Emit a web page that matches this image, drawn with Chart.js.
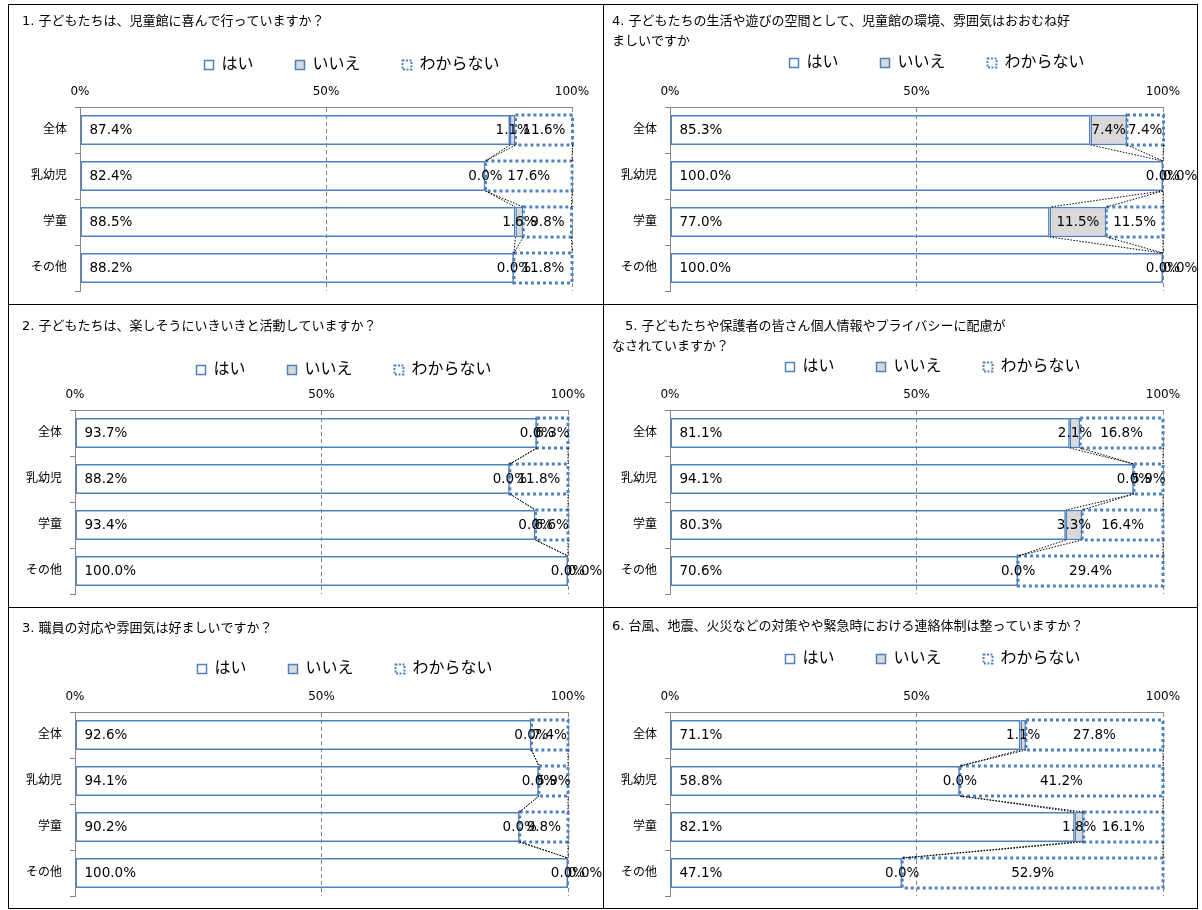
<!DOCTYPE html>
<html>
<head>
<meta charset="utf-8">
<script src="https://cdn.jsdelivr.net/npm/chart.js@4.4.1/dist/chart.umd.min.js"></script>
<style>
  body { margin: 0; background: #fff; }
  #page { position: relative; width: 1202px; height: 910px; overflow: hidden; }
  #page canvas { position: absolute; }
  .ln { position: absolute; background: #000; z-index: 5; }
</style>
</head>
<body>
<div id="page"></div>
<script>
const categories = ["全体", "乳幼児", "学童", "その他"];
const seriesNames = ["はい", "いいえ", "わからない"];
const axisTicks = [0, 50, 100];

const titles = [
  ["1. 子どもたちは、児童館に喜んで行っていますか？"],
  ["2. 子どもたちは、楽しそうにいきいきと活動していますか？"],
  ["3. 職員の対応や雰囲気は好ましいですか？"],
  ["4. 子どもたちの生活や遊びの空間として、児童館の環境、雰囲気はおおむね好", "ましいですか"],
  ["\u30005. 子どもたちや保護者の皆さん個人情報やプライバシーに配慮が", "なされていますか？"],
  ["6. 台風、地震、火災などの対策やや緊急時における連絡体制は整っていますか？"],
];

const q1Yes = [87.4, 82.4, 88.5, 88.2];
const q1No = [1.1, 0.0, 1.6, 0.0];
const q1Unknown = [11.6, 17.6, 9.8, 11.8];

const q2Yes = [93.7, 88.2, 93.4, 100.0];
const q2No = [0.0, 0.0, 0.0, 0.0];
const q2Unknown = [6.3, 11.8, 6.6, 0.0];

const q3Yes = [92.6, 94.1, 90.2, 100.0];
const q3No = [0.0, 0.0, 0.0, 0.0];
const q3Unknown = [7.4, 5.9, 9.8, 0.0];

const q4Yes = [85.3, 100.0, 77.0, 100.0];
const q4No = [7.4, 0.0, 11.5, 0.0];
const q4Unknown = [7.4, 0.0, 11.5, 0.0];

const q5Yes = [81.1, 94.1, 80.3, 70.6];
const q5No = [2.1, 0.0, 3.3, 0.0];
const q5Unknown = [16.8, 5.9, 16.4, 29.4];

const q6Yes = [71.1, 58.8, 82.1, 47.1];
const q6No = [1.1, 0.0, 1.8, 0.0];
const q6Unknown = [27.8, 41.2, 16.1, 52.9];

const answers = [
  [q1Yes, q1No, q1Unknown],
  [q2Yes, q2No, q2Unknown],
  [q3Yes, q3No, q3Unknown],
  [q4Yes, q4No, q4Unknown],
  [q5Yes, q5No, q5Unknown],
  [q6Yes, q6No, q6Unknown],
];

// page layout (pixels)
const cols = [[8, 603], [603, 1197]];
const rows = [[4, 304], [304, 607], [607, 908]];
const panels = [
  { col: 0, row: 0, titleX: 22, titleY: 22, legendX: 352, legendY: 65, tickY: 92, left: 80, right: 572, top: 107, bottom: 291 },
  { col: 0, row: 1, titleX: 22, titleY: 327, legendX: 344, legendY: 370, tickY: 395, left: 75, right: 568, top: 410, bottom: 594 },
  { col: 0, row: 2, titleX: 22, titleY: 629, legendX: 345, legendY: 669, tickY: 697, left: 75, right: 568, top: 712, bottom: 896 },
  { col: 1, row: 0, titleX: 612, titleY: 22, legendX: 937, legendY: 63, tickY: 92, left: 670, right: 1163, top: 107, bottom: 291 },
  { col: 1, row: 1, titleX: 612, titleY: 327, legendX: 933, legendY: 367, tickY: 395, left: 670, right: 1163, top: 410, bottom: 594 },
  { col: 1, row: 2, titleX: 612, titleY: 627, legendX: 933, legendY: 659, tickY: 697, left: 670, right: 1163, top: 712, bottom: 896 },
];

const BLUE = "#4F81BD";
const GRID = "#868686";
const NO_FILL = "#D9D9D9";
const TITLE_LINE = 20;
const LEGEND_FONT = 16;
const LEGEND_PAD = 42;
const TICK_FONT = 12;

Chart.defaults.font.family = '"DejaVu Sans", "Noto Sans CJK JP", sans-serif';
Chart.defaults.color = "#000";

// move the legend so it is centred where the original has it
const legendShift = {
  id: "legendShift",
  afterLayout(chart, args, opts) {
    const lg = chart.legend;
    if (!lg) return;
    const dx = opts.center - (lg.left + lg.right) / 2;
    lg.left += dx;
    lg.right += dx;
  },
};

// dotted outline for the "わからない" bars
const dottedBars = {
  id: "dottedBars",
  afterDatasetsDraw(chart) {
    const { ctx } = chart;
    const meta = chart.getDatasetMeta(2);
    ctx.save();
    ctx.strokeStyle = BLUE;
    ctx.lineWidth = 3;
    ctx.setLineDash([3, 3]);
    meta.data.forEach((el, i) => {
      if (!chart.data.datasets[2].data[i]) return;
      const h = el.height;
      ctx.strokeRect(el.base, el.y - h / 2, el.x - el.base, h);
    });
    ctx.restore();
  },
};

// Excel style series lines between the bars
const seriesLines = {
  id: "seriesLines",
  afterDatasetsDraw(chart) {
    const { ctx } = chart;
    ctx.save();
    ctx.strokeStyle = "#000";
    ctx.lineWidth = 1;
    ctx.setLineDash([1.5, 1.5]);
    chart.data.datasets.forEach((ds, d) => {
      const pts = chart.getDatasetMeta(d).data;
      for (let i = 0; i < pts.length - 1; i++) {
        const a = pts[i], b = pts[i + 1];
        ctx.beginPath();
        ctx.moveTo(a.x, a.y + a.height / 2);
        ctx.lineTo(b.x, b.y - b.height / 2);
        ctx.stroke();
      }
    });
    ctx.restore();
  },
};

const valueLabels = {
  id: "valueLabels",
  afterDatasetsDraw(chart) {
    const { ctx } = chart;
    ctx.save();
    ctx.font = '13.5px "DejaVu Sans", sans-serif';
    ctx.fillStyle = "#000";
    ctx.textBaseline = "middle";
    chart.data.datasets.forEach((ds, d) => {
      chart.getDatasetMeta(d).data.forEach((el, i) => {
        const v = ds.data[i];
        const txt = v.toFixed(1) + "%";
        if (d === 0) {
          ctx.textAlign = "left";
          ctx.fillText(txt, el.base + 9, el.y);
        } else if (d === 2 && v === 0) {
          ctx.textAlign = "left";
          ctx.fillText(txt, el.x, el.y);
        } else {
          ctx.textAlign = "center";
          ctx.fillText(txt, (el.base + el.x) / 2, el.y);
        }
      });
    });
    ctx.restore();
  },
};

const page = document.getElementById("page");

panels.forEach((p, q) => {
  const [c0, c1] = cols[p.col];
  const [r0, r1] = rows[p.row];
  const left = c0 + 1, top = r0 + 1;
  const W = c1 - c0 - 1, H = r1 - r0 - 1;

  const canvas = document.createElement("canvas");
  canvas.width = W;
  canvas.height = H;
  canvas.style.left = left + "px";
  canvas.style.top = top + "px";
  page.appendChild(canvas);

  const lines = titles[q];
  const titleTop = p.titleY - top - TITLE_LINE / 2;
  const legendTop = p.legendY - top - LEGEND_PAD - LEGEND_FONT / 2;
  const legendBottom = p.legendY - top + LEGEND_FONT / 2 + 10;
  const plotTop = p.top - top;
  const padL = p.titleX - left;

  const [yes, no, unknown] = answers[q];

  new Chart(canvas, {
    type: "bar",
    data: {
      labels: categories,
      datasets: [
        { label: seriesNames[0], data: yes, backgroundColor: "rgba(255,255,255,0)", borderColor: BLUE, borderWidth: 1.5, borderSkipped: false },
        { label: seriesNames[1], data: no, backgroundColor: NO_FILL, borderColor: BLUE, borderWidth: 1.5, borderSkipped: false },
        { label: seriesNames[2], data: unknown, backgroundColor: "rgba(255,255,255,0)", borderColor: BLUE, borderWidth: 0, borderSkipped: false },
      ],
    },
    options: {
      indexAxis: "y",
      responsive: false,
      animation: false,
      events: [],
      categoryPercentage: 0.65,
      barPercentage: 1,
      layout: {
        padding: { left: padL, right: W - (p.right - left), top: 0, bottom: H - (p.bottom - top) },
      },
      scales: {
        x: {
          type: "linear",
          position: "top",
          stacked: true,
          min: 0,
          max: 100,
          afterBuildTicks: (s) => { s.ticks = axisTicks.map((v) => ({ value: v })); },
          ticks: {
            padding: plotTop - (p.tickY - top) - TICK_FONT * 0.6,
            font: { size: TICK_FONT },
            callback: (v) => `${v}%`,
          },
          grid: { color: GRID, drawTicks: false },
          border: { color: GRID, dash: [4, 3] },
          afterFit: (s) => {
            s.height = plotTop - legendBottom;
            s.paddingLeft = 0;
            s.paddingRight = 0;
          },
        },
        y: {
          type: "category",
          stacked: true,
          ticks: { padding: 8, font: { size: 12 } },
          grid: { drawOnChartArea: false, color: GRID, tickLength: 5 },
          border: { color: GRID },
          afterFit: (s) => {
            s.width = p.left - left - padL;
            s.paddingTop = 0;
            s.paddingBottom = 0;
          },
        },
      },
      plugins: {
        tooltip: { enabled: false },
        title: {
          display: true,
          text: lines,
          align: "start",
          color: "#000",
          font: { size: 13, weight: "normal", lineHeight: TITLE_LINE + "px" },
          padding: { top: titleTop, bottom: legendTop - titleTop - lines.length * TITLE_LINE },
        },
        legend: {
          position: "top",
          align: "center",
          labels: {
            font: { size: LEGEND_FONT },
            boxWidth: 9,
            boxHeight: 9,
            padding: LEGEND_PAD,
            generateLabels: (chart) => {
              const items = Chart.defaults.plugins.legend.labels.generateLabels(chart);
              items.forEach((it, i) => {
                it.strokeStyle = BLUE;
                it.fillStyle = i === 1 ? NO_FILL : "#fff";
                it.lineWidth = i === 2 ? 2 : 1.5;
                it.lineDash = i === 2 ? [2, 1.5] : [];
              });
              return items;
            },
          },
        },
        legendShift: { center: p.legendX - left },
      },
    },
    plugins: [legendShift, dottedBars, seriesLines, valueLabels],
  });
});

// panel frame lines
[4, 304, 607, 908].forEach((y) => {
  const d = document.createElement("div");
  d.className = "ln";
  Object.assign(d.style, { left: "8px", top: y + "px", width: "1190px", height: "1px" });
  page.appendChild(d);
});
[8, 603, 1197].forEach((x) => {
  const d = document.createElement("div");
  d.className = "ln";
  Object.assign(d.style, { left: x + "px", top: "4px", width: "1px", height: "905px" });
  page.appendChild(d);
});
</script>
</body>
</html>
